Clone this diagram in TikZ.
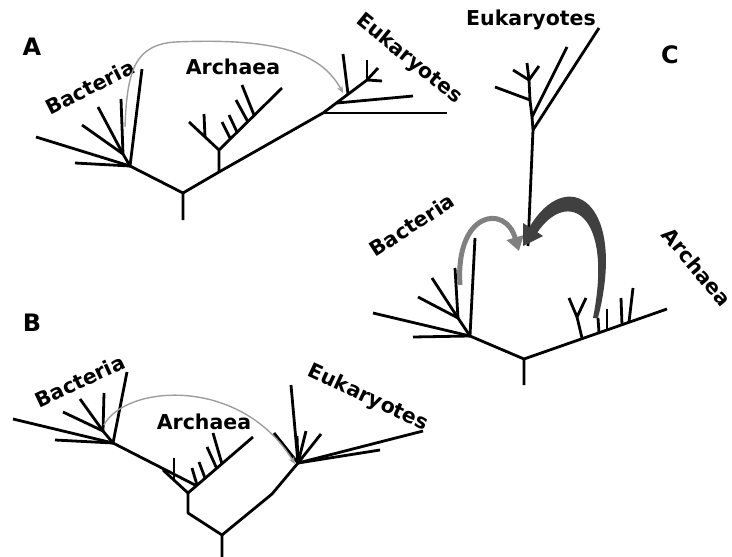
\documentclass[tikz,border=0pt]{standalone}
\usepackage{fontspec}
\setmainfont{DejaVu Sans}
\usetikzlibrary{arrows.meta}

\begin{document}
\begin{tikzpicture}[
  x=1pt, y=-1pt,
  branch/.style={line width=2.8pt, line join=round},
  clade/.style={font=\fontsize{20.5}{24}\selectfont\bfseries, inner sep=0},
  panel/.style={font=\fontsize{24}{28}\selectfont\bfseries, inner sep=0},
  hgt/.style={draw=black!38, line width=1.4pt, -{Stealth[length=7pt, width=6pt]}},
  fuse/.style={line width=#1, -{Triangle[length=14pt, width=17pt]}}
]
\useasboundingbox (0,0) rectangle (732,557);

\node[panel] (labA) at (32,47) {A};
\node[clade, rotate=27]  (tBacA) at (90,87)  {Bacteria};
\node[clade]             (tArcA) at (233,67) {Archaea};
\node[clade, rotate=-39] (tEukA) at (409,59) {Eukaryotes};

\coordinate (rootA) at (183,193);
\coordinate (stemA) at (183,220);
\coordinate (bacA)  at (130,166);
\coordinate (bacA0) at (123,154);
\coordinate (arcA)  at (219,172);
\coordinate (arcA0) at (219,150);
\coordinate (arcAl) at (189,122);
\coordinate (arcAr) at (282,88);
\coordinate (eukA)  at (323,113);
\coordinate (eukA1) at (337,103);
\coordinate (eukA2) at (348,94);
\coordinate (eukA3) at (367,80);
\draw[branch] (stemA) -- (rootA) -- (bacA) -- (bacA0);
\draw[branch] (rootA) -- (arcA) -- (eukA) -- (eukA3);
\draw[branch] (arcA) -- (arcA0) -- (arcAl);
\draw[branch] (arcA0) -- (arcAr);
\foreach \x/\y [count=\i] in {36/137, 75/163, 142/69}
  {\coordinate (bacA-\i) at (\x,\y); \draw[branch] (bacA) -- (bacA-\i);}
\foreach \x/\y [count=\i] in {82/125, 98/107, 121/99}
  {\coordinate (bacA0-\i) at (\x,\y); \draw[branch] (bacA0) -- (bacA0-\i);}
\foreach \bx/\by/\tx/\ty [count=\i] in {205/137/204/114, 230/138/222/122, 237/132/229/115, 248/122/236/100, 254/115/242/85}
  {\coordinate (tkA-\i) at (\bx,\by); \coordinate (tpA-\i) at (\tx,\ty); \draw[branch] (tkA-\i) -- (tpA-\i);}
\coordinate (eukA-1) at (447,113);
\coordinate (eukA-2) at (413,96);
\coordinate (eukA-3) at (343,54);
\draw[branch] (eukA) -- (eukA-1);
\draw[branch] (eukA1) -- (eukA-2);
\draw[branch] (eukA2) -- (eukA-3);
\foreach \x/\y [count=\i] in {367/60, 378/68, 382/81}
  {\coordinate (eukA3-\i) at (\x,\y); \draw[branch] (eukA3) -- (eukA3-\i);}
\coordinate (hgtA0) at (125,127);
\coordinate (hgtA1) at (175,42);
\coordinate (hgtA2) at (343,93);
\draw[hgt] (hgtA0) .. controls (127,70) and (135,45) .. (hgtA1) .. controls (270,38) and (320,50) .. (hgtA2);

\node[panel] (labB) at (32,323) {B};
\node[clade, rotate=25]  (tBacB) at (80,381)  {Bacteria};
\node[clade]             (tArcB) at (204,422) {Archaea};
\node[clade, rotate=-25] (tEukB) at (368,398) {Eukaryotes};

\coordinate (rootB)  at (222,535);
\coordinate (stemB)  at (222,557);
\coordinate (kinkB1) at (188,513);
\coordinate (arcB)   at (188,493);
\coordinate (kinkB2) at (272,494);
\coordinate (eukB)   at (298,463);
\coordinate (bacB)   at (113,443);
\coordinate (bacB0)  at (103,431);
\coordinate (joinB)  at (197,486);
\coordinate (arcBl)  at (163,470);
\coordinate (arcBr)  at (253,437);
\draw[branch] (stemB) -- (rootB) -- (kinkB1) -- (arcB) -- (arcBl);
\draw[branch] (rootB) -- (kinkB2) -- (eukB);
\draw[branch] (arcB) -- (arcBr);
\draw[branch] (bacB) -- (joinB);
\draw[branch] (bacB) -- (bacB0);
\foreach \x/\y [count=\i] in {13/419, 55/440, 127/372}
  {\coordinate (bacB-\i) at (\x,\y); \draw[branch] (bacB) -- (bacB-\i);}
\foreach \x/\y [count=\i] in {63/412, 80/399, 104/393}
  {\coordinate (bacB0-\i) at (\x,\y); \draw[branch] (bacB0) -- (bacB0-\i);}
\foreach \bx/\by/\tx/\ty [count=\i] in {174/480/174/458, 197/485/192/468, 205/478/199/462, 217/469/207/447, 222/464/213/433}
  {\coordinate (tkB-\i) at (\bx,\by); \coordinate (tpB-\i) at (\tx,\ty); \draw[branch] (tkB-\i) -- (tpB-\i);}
\foreach \x/\y [count=\i] in {291/385, 274/433, 297/436, 306/431, 321/434, 423/431, 380/450}
  {\coordinate (eukB-\i) at (\x,\y); \draw[branch] (eukB) -- (eukB-\i);}
\coordinate (hgtB0) at (104,425);
\coordinate (hgtB1) at (295,464);
\draw[hgt] (hgtB0) .. controls (125,385) and (240,375) .. (hgtB1);

\node[panel] (labC) at (670,55) {C};
\node[clade]             (tEukC) at (531,20)  {Eukaryotes};
\node[clade, rotate=33]  (tBacC) at (412,225) {Bacteria};
\node[clade, rotate=-50] (tArcC) at (697,267) {Archaea};

\coordinate (rootC) at (524,359);
\coordinate (stemC) at (524,385);
\coordinate (bacC)  at (470,336);
\coordinate (bacC0) at (458,318);
\coordinate (arcCr) at (667,309);
\coordinate (yC0)   at (582,338);
\coordinate (yC1)   at (577,317);
\draw[branch] (stemC) -- (rootC) -- (bacC) -- (bacC0);
\draw[branch] (rootC) -- (arcCr);
\draw[branch] (yC0) -- (yC1);
\foreach \x/\y [count=\i] in {373/313, 413/337, 475/238}
  {\coordinate (bacC-\i) at (\x,\y); \draw[branch] (bacC) -- (bacC-\i);}
\foreach \x/\y [count=\i] in {418/297, 432/278, 455/268}
  {\coordinate (bacC0-\i) at (\x,\y); \draw[branch] (bacC0) -- (bacC0-\i);}
\foreach \x/\y [count=\i] in {569/298, 586/298}
  {\coordinate (yC1-\i) at (\x,\y); \draw[branch] (yC1) -- (yC1-\i);}
\foreach \bx/\by/\tx/\ty [count=\i] in {599/333/598/318, 607/330/607/309, 622/325/621/298, 629/322/633/288}
  {\coordinate (tkC-\i) at (\bx,\by); \coordinate (tpC-\i) at (\tx,\ty); \draw[branch] (tkC-\i) -- (tpC-\i);}
\coordinate (eukC0) at (528,246);
\coordinate (eukC1) at (533,130);
\coordinate (eukC2) at (532,117);
\coordinate (eukC3) at (530,100);
\coordinate (eukC4) at (529,80);
\coordinate (eukC1-1) at (599,28);
\coordinate (eukC2-1) at (567,47);
\coordinate (eukC3-1) at (495,87);
\draw[branch] (eukC0) -- (eukC1) -- (eukC2) -- (eukC3) -- (eukC4);
\draw[branch] (eukC1) -- (eukC1-1);
\draw[branch] (eukC2) -- (eukC2-1);
\draw[branch] (eukC3) -- (eukC3-1);
\foreach \x/\y [count=\i] in {513/70, 527/63, 539/66}
  {\coordinate (eukC4-\i) at (\x,\y); \draw[branch] (eukC4) -- (eukC4-\i);}
\coordinate (fromBacC) at (460,285);
\coordinate (mergeB)   at (519,251);
\draw[fuse=5pt, black!50] (fromBacC) .. controls (455,212) and (505,203) .. (mergeB);
\coordinate (arcCo) at (598,318);
\coordinate (arcCi) at (593,318);
\coordinate (fuseCo) at (529,228);
\coordinate (fuseCi) at (537,233);
\coordinate (headCa) at (523,223);
\coordinate (headCb) at (543,236);
\coordinate (mergeA) at (523,246);
\fill[black!75] (arcCo) .. controls (628,200) and (566,164) .. (fuseCo) -- (fuseCi) .. controls (567,188) and (614,212) .. (arcCi) -- cycle;
\fill[black!75] (headCa) -- (mergeA) -- (headCb) -- cycle;
\end{tikzpicture}
\end{document}
